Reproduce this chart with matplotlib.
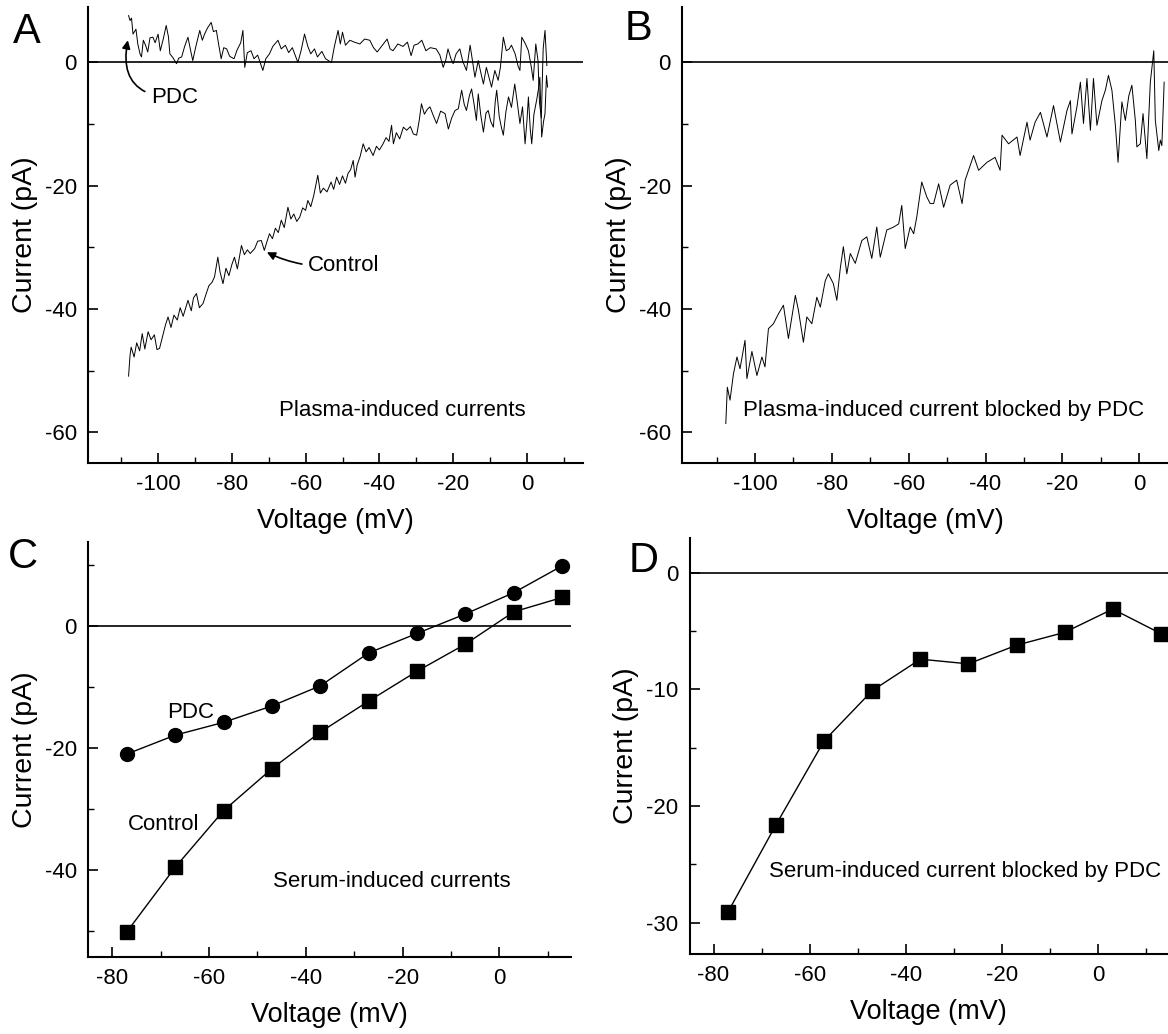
import numpy as np
from matplotlib import pyplot as plt
from matplotlib.ticker import MultipleLocator

plt.rcParams['font.family'] = ['Liberation Sans', 'DejaVu Sans']
plt.rcParams['axes.unicode_minus'] = False

#==============================================================================
# DATA
#==============================================================================
# Panel A, control trace: voltage (mV), current (pA)
a_ctrl_v = [-108.0, -107.6, -107.3, -106.5, -105.8, -105.0, -104.3, -103.6, -102.7, -101.9,
            -101.0, -100.3, -99.6, -98.8, -98.0, -97.3, -96.5, -95.7, -94.8, -94.0,
            -93.2, -92.4, -91.9, -91.0, -90.4, -89.6, -88.8, -87.8, -87.0, -86.2,
            -85.4, -84.7, -83.8, -83.2, -82.4, -81.6, -80.8, -80.0, -79.3, -78.5,
            -77.4, -76.6, -75.8, -75.0, -73.8, -73.0, -72.0, -71.2, -70.6, -69.8,
            -69.0, -68.2, -67.4, -66.6, -65.8, -64.8, -64.0, -63.2, -62.4, -61.6,
            -60.8, -60.0, -59.4, -58.6, -57.8, -56.7, -56.0, -55.2, -54.2, -53.1,
            -52.4, -51.6, -50.8, -50.0, -49.2, -48.5, -47.8, -47.1, -46.6, -46.0,
            -45.2, -44.4, -43.6, -42.8, -41.7, -40.8, -40.0, -39.0, -38.2, -37.4,
            -36.7, -36.2, -35.4, -34.5, -33.5, -32.6, -31.6, -30.8, -29.9, -29.2,
            -28.6, -27.8, -27.0, -26.3, -25.4, -24.5, -23.4, -22.2, -21.3, -20.4,
            -19.5, -18.6, -17.7, -17.0, -16.4, -15.6, -15.0, -14.3, -13.7, -13.2,
            -12.5, -11.8, -11.1, -10.5, -9.8, -9.1, -8.6, -8.2, -7.5, -6.9,
            -6.4, -5.7, -5.0, -4.2, -3.3, -2.6, -1.9, -1.2, -0.5, 0.0,
            0.4, 0.9, 1.3, 1.9, 2.6, 3.1, 3.5, 4.0, 4.5, 4.9, 5.3, 5.6]
a_ctrl_i = [-50.9, -47.5, -46.2, -47.8, -45.5, -46.8, -44.0, -46.5, -43.7, -45.0,
            -44.2, -46.6, -46.4, -44.5, -42.6, -41.3, -43.0, -41.0, -41.8, -39.8,
            -41.2, -39.6, -38.6, -40.3, -38.2, -37.5, -39.8, -39.1, -37.6, -36.2,
            -35.7, -34.8, -31.6, -34.0, -35.9, -33.4, -34.6, -32.8, -31.6, -33.5,
            -29.7, -31.2, -30.4, -31.0, -30.2, -29.0, -28.9, -30.5, -29.3, -27.8,
            -28.6, -26.9, -27.6, -25.6, -26.8, -23.5, -25.4, -24.6, -25.8, -25.1,
            -23.6, -24.0, -22.4, -23.4, -21.6, -18.3, -21.2, -20.4, -21.0, -19.4,
            -20.6, -18.6, -19.8, -18.4, -19.6, -18.0, -17.4, -15.9, -18.6, -16.6,
            -15.2, -13.2, -14.5, -13.8, -15.1, -13.6, -14.2, -13.2, -12.2, -12.8,
            -10.2, -13.2, -11.4, -12.4, -10.5, -11.0, -10.4, -11.6, -11.8, -9.4,
            -6.7, -8.4, -7.6, -7.2, -8.6, -9.9, -7.9, -8.3, -10.8, -9.0,
            -7.8, -7.5, -4.5, -6.8, -7.8, -5.4, -4.3, -6.9, -9.4, -5.1,
            -8.6, -11.3, -8.2, -7.8, -9.6, -10.5, -6.4, -4.5, -8.8, -10.6,
            -11.8, -8.0, -5.6, -7.3, -3.5, -6.6, -9.9, -7.2, -13.2, -9.5,
            -5.6, -10.8, -13.2, -8.4, -6.2, -4.4, -2.4, -12.1, -9.6, -8.3, -2.1, -4.0]

# Panel A, PDC trace
a_pdc_v = [-108.0, -107.6, -107.2, -106.8, -106.0, -105.5, -104.9, -104.5, -104.0, -103.4,
           -102.8, -102.2, -101.4, -100.8, -100.0, -99.4, -98.6, -97.8, -97.2, -96.8,
           -96.0, -95.0, -94.4, -93.6, -92.8, -91.9, -91.2, -90.6, -89.8, -88.7,
           -88.0, -87.4, -86.6, -85.6, -85.0, -84.2, -83.6, -82.9, -82.2, -81.4,
           -80.6, -79.4, -78.6, -77.6, -77.0, -76.5, -75.8, -74.8, -74.0, -73.0,
           -71.6, -70.8, -69.8, -68.9, -67.5, -66.6, -65.5, -64.6, -63.6, -62.1,
           -61.2, -60.3, -59.4, -58.6, -57.6, -56.8, -55.6, -54.6, -53.0, -52.2,
           -51.2, -50.6, -50.0, -49.2, -48.0, -46.8, -45.3, -44.0, -42.6, -41.6,
           -40.6, -39.2, -37.9, -37.1, -36.3, -35.0, -33.6, -32.4, -31.4, -30.6,
           -29.6, -28.5, -27.4, -26.2, -24.6, -23.6, -22.7, -22.0, -21.4, -20.6,
           -20.0, -19.2, -18.2, -17.4, -16.4, -15.4, -14.6, -14.1, -13.2, -12.6,
           -11.8, -11.0, -10.2, -9.6, -8.7, -7.8, -7.2, -6.4, -5.6, -4.8,
           -4.2, -3.2, -2.4, -1.9, -1.4, -0.4, 0.4, 1.2, 1.7, 2.4,
           3.0, 3.4, 3.9, 4.4, 4.9, 5.4]
a_pdc_i = [7.6, 6.8, 7.2, 4.6, 5.4, 3.0, 1.4, 0.9, 3.6, 2.8,
           1.7, 4.0, 4.1, 3.2, 4.6, 1.9, 3.8, 6.0, 4.2, 1.4,
           0.8, -0.2, 0.7, 0.9, 2.6, 4.1, 2.0, 0.3, 2.5, 5.2,
           3.6, 4.6, 5.6, 6.5, 5.0, 5.2, 3.0, 0.6, 2.4, 2.2,
           1.0, 0.6, 2.0, 3.2, 5.2, -0.8, 1.6, 1.9, 0.6, 1.2,
           -1.3, 0.6, 1.4, 2.6, 3.6, 2.2, 2.8, 1.6, 2.4, 0.0,
           2.0, 4.6, 2.6, 1.4, 2.2, 0.9, 1.8, 0.6, 0.0, 2.6,
           5.2, 3.0, 4.9, 2.8, 3.6, 3.3, 3.0, 3.8, 3.6, 2.4,
           1.7, 2.8, 3.8, 2.2, 1.9, 3.0, 2.6, 3.3, 1.1, 2.8,
           3.0, 3.6, 1.9, 2.4, 2.2, 1.2, -0.8, 0.4, 2.2, 0.6,
           -0.2, 1.4, 2.2, 0.2, -1.3, 2.8, -0.4, -2.4, 0.3, -1.4,
           -3.5, -0.8, -2.6, -4.0, -1.3, -2.9, -0.8, 4.1, 1.9, 2.2,
           2.8, 1.4, -0.6, -1.3, 4.1, 3.0, 1.9, -0.8, -2.9, 3.0,
           0.3, -6.5, -9.0, 2.2, 5.2, -0.5]

# Panel B, current blocked by PDC
b_v = [-107.6, -107.2, -106.5, -105.6, -104.7, -103.9, -102.6, -102.1, -100.8, -99.5,
       -98.2, -97.4, -96.5, -95.2, -93.9, -92.6, -91.3, -89.5, -88.7, -87.4,
       -86.5, -85.2, -83.9, -83.0, -81.7, -80.9, -79.6, -78.7, -77.8, -77.0,
       -76.1, -75.2, -73.9, -72.2, -70.9, -69.6, -68.3, -67.4, -65.7, -63.9,
       -62.6, -61.8, -60.9, -59.6, -58.7, -57.9, -56.6, -55.3, -54.4, -53.5,
       -52.2, -50.9, -49.2, -47.5, -46.1, -45.3, -43.1, -41.8, -39.6, -37.5,
       -36.2, -35.7, -34.0, -31.8, -31.0, -29.2, -28.4, -27.1, -25.7, -24.0,
       -22.3, -20.5, -18.8, -17.9, -17.5, -16.2, -15.3, -14.5, -13.6, -12.7,
       -11.9, -11.0, -9.7, -8.8, -8.0, -7.1, -6.2, -5.5, -4.5, -3.6,
       -2.7, -1.9, -1.0, -0.6, 0.3, 1.0, 2.0, 2.9, 3.8, 4.2,
       5.1, 5.5, 5.9, 6.5]
b_i = [-58.6, -52.7, -54.8, -50.5, -47.8, -49.7, -45.1, -51.3, -46.9, -50.8,
       -47.8, -49.4, -43.2, -42.4, -40.8, -39.4, -44.8, -37.8, -40.2, -45.4,
       -41.3, -42.4, -38.1, -39.7, -35.4, -34.3, -35.9, -38.6, -33.4, -29.9,
       -34.3, -31.0, -32.6, -28.9, -28.3, -31.8, -26.7, -31.6, -27.2, -26.7,
       -26.2, -23.2, -30.2, -26.7, -27.8, -25.1, -19.4, -21.8, -22.9, -22.9,
       -19.7, -23.5, -19.9, -19.1, -22.9, -19.1, -15.1, -17.5, -16.2, -15.4,
       -17.5, -11.8, -13.2, -12.1, -15.1, -9.7, -12.6, -9.7, -8.1, -12.1,
       -7.0, -12.9, -7.8, -6.2, -11.6, -7.2, -3.2, -9.9, -2.6, -11.0,
       -2.6, -10.2, -6.2, -4.5, -2.1, -4.5, -10.2, -16.2, -6.4, -9.4,
       -5.4, -3.7, -9.4, -13.7, -13.2, -8.3, -15.6, -3.2, 1.9, -9.4,
       -14.3, -12.6, -13.5, -3.2]

# Panels C and D, test potentials (mV)
step_v = [-77, -67, -57, -47, -37, -27, -17, -7, 3, 13]
c_pdc = [-21.0, -17.9, -15.8, -13.1, -9.8, -4.4, -1.2, 2.0, 5.5, 9.9]
c_ctrl = [-50.2, -39.6, -30.3, -23.4, -17.4, -12.3, -7.4, -2.95, 2.35, 4.7]
d_block = [-29.1, -21.6, -14.4, -10.1, -7.4, -7.8, -6.2, -5.1, -3.1, -5.2]

#==============================================================================
# FIGURE
#==============================================================================
W, H = 1168, 1034
fig = plt.figure(figsize=(W/100, H/100), dpi=100)

def make_axes(left, top, right, bottom):
    # pixel box -> figure fraction
    ax = fig.add_axes([left/W, 1 - bottom/H, (right - left)/W, (bottom - top)/H])
    ax.spines['top'].set_visible(False)
    ax.spines['right'].set_visible(False)
    ax.spines['left'].set_linewidth(1.5)
    ax.spines['bottom'].set_linewidth(1.5)
    ax.tick_params(which='major', direction='in', length=7, width=1.2, labelsize=16, pad=8)
    ax.tick_params(which='minor', direction='in', length=4, width=1.0)
    ax.axhline(0, color='k', lw=1.2)
    ax.set_xlabel('Voltage (mV)', fontsize=19.5, labelpad=9)
    ax.set_ylabel('Current (pA)', fontsize=20.5, labelpad=5)
    return ax

# Panel A
axA = make_axes(88, 7, 583, 463)
axA.plot(a_ctrl_v, a_ctrl_i, 'k-', lw=0.7)
axA.plot(a_pdc_v, a_pdc_i, 'k-', lw=0.7)
axA.set_xlim(-119, 15.2)
axA.set_ylim(-65, 9)
axA.xaxis.set_major_locator(MultipleLocator(20))
axA.xaxis.set_minor_locator(MultipleLocator(10))
axA.yaxis.set_major_locator(MultipleLocator(20))
axA.yaxis.set_minor_locator(MultipleLocator(10))
axA.annotate('PDC', xy=(-108.2, 3.6), xytext=(-101.8, -5.7), fontsize=16,
             ha='left', va='center',
             arrowprops=dict(arrowstyle='-|>', color='k', lw=1.2, mutation_scale=12,
                             connectionstyle='arc3,rad=-0.6', shrinkA=3, shrinkB=0))
axA.annotate('Control', xy=(-70.5, -30.8), xytext=(-59.5, -32.9), fontsize=16,
             ha='left', va='center',
             arrowprops=dict(arrowstyle='-|>', color='k', lw=1.2, mutation_scale=12,
                             connectionstyle='arc3,rad=-0.15', shrinkA=2, shrinkB=0))
axA.text(-33.9, -56.4, 'Plasma-induced currents', fontsize=16, ha='center', va='center')

# Panel B
axB = make_axes(682, 7, 1168, 463)
axB.plot(b_v, b_i, 'k-', lw=0.7)
axB.set_xlim(-119, 7.5)
axB.set_ylim(-65, 9)
axB.xaxis.set_major_locator(MultipleLocator(20))
axB.xaxis.set_minor_locator(MultipleLocator(10))
axB.yaxis.set_major_locator(MultipleLocator(20))
axB.yaxis.set_minor_locator(MultipleLocator(10))
axB.text(-50.8, -56.4, 'Plasma-induced current blocked by PDC', fontsize=16,
         ha='center', va='center')

# Panel C
axC = make_axes(88, 542, 571, 957)
axC.plot(step_v, c_pdc, 'k-o', lw=1.0, ms=10)
axC.plot(step_v, c_ctrl, 'k-s', lw=1.0, ms=10.5)
axC.set_xlim(-85, 14.8)
axC.set_ylim(-54.3, 13.8)
axC.xaxis.set_major_locator(MultipleLocator(20))
axC.xaxis.set_minor_locator(MultipleLocator(10))
axC.yaxis.set_major_locator(MultipleLocator(20))
axC.yaxis.set_minor_locator(MultipleLocator(10))
axC.text(-63.8, -14.2, 'PDC', fontsize=16, ha='center', va='center')
axC.text(-69.4, -32.6, 'Control', fontsize=16, ha='center', va='center')
axC.text(-22.2, -41.9, 'Serum-induced currents', fontsize=16, ha='center', va='center')

# Panel D
axD = make_axes(689.5, 538, 1168, 954)
axD.plot(step_v, d_block, 'k-s', lw=1.0, ms=10.5, clip_on=False)
axD.set_xlim(-85, 14.5)
axD.set_ylim(-32.7, 3)
axD.xaxis.set_major_locator(MultipleLocator(20))
axD.xaxis.set_minor_locator(MultipleLocator(10))
axD.yaxis.set_major_locator(MultipleLocator(10))
axD.yaxis.set_minor_locator(MultipleLocator(5))
axD.text(-27.8, -25.6, 'Serum-induced current blocked by PDC', fontsize=16,
         ha='center', va='center')

# panel letters
for letter, px, py in [('A', 13, 43), ('B', 625, 40), ('C', 8, 568), ('D', 629, 572)]:
    fig.text(px/W, 1 - py/H, letter, fontsize=30, ha='left', va='baseline')

plt.savefig('out.png', dpi=100)
